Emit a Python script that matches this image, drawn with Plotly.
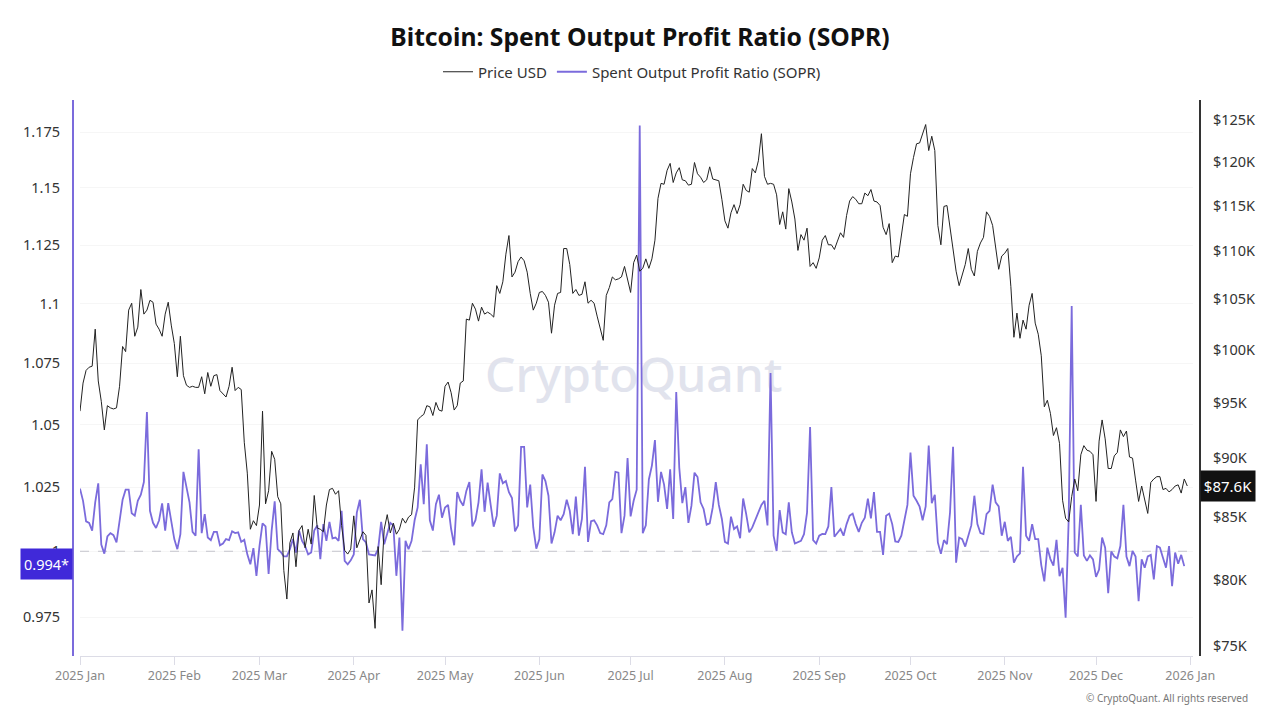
import pandas as pd
import plotly.graph_objects as go

TITLE = "Bitcoin: Spent Output Profit Ratio (SOPR)"
FONT = "Noto Sans, Open Sans, sans-serif"

price_k = [
    94.2, 96.8, 98.0, 98.3, 98.4, 102.0, 97.0, 95.1, 92.5, 94.7,
    94.5, 94.4, 94.5, 96.5, 100.3, 99.8, 103.9, 104.6, 101.3, 102.2,
    106.0, 103.5, 103.9, 104.9, 104.7, 102.5, 102.0, 101.3, 103.5, 104.7,
    102.4, 100.6, 97.4, 101.3, 97.5, 96.6, 96.4, 96.5, 96.4, 96.4,
    97.4, 95.8, 97.8, 96.5, 97.5, 97.6, 96.1, 95.8, 95.5, 96.5,
    98.3, 96.1, 96.4, 96.2, 91.4, 88.7, 84.0, 84.7, 84.3, 86.0,
    94.2, 86.1, 87.2, 90.6, 89.9, 86.7, 86.1, 80.7, 78.5, 82.9,
    83.7, 81.0, 83.9, 84.3, 82.5, 84.0, 82.8, 86.8, 84.1, 84.0,
    83.8, 86.0, 87.3, 87.4, 86.9, 87.2, 84.3, 82.3, 82.0, 82.4,
    85.1, 82.5, 83.1, 83.8, 83.5, 78.2, 79.2, 76.3, 82.6, 79.6,
    84.0, 85.2, 83.7, 84.5, 83.6, 84.0, 84.9, 84.5, 85.0, 85.2,
    87.5, 93.4, 93.7, 93.9, 94.7, 94.6, 93.8, 95.0, 94.3, 94.2,
    96.5, 96.9, 95.9, 94.3, 94.7, 96.8, 97.0, 103.0, 102.9, 104.6,
    104.0, 102.8, 104.2, 103.5, 103.7, 103.5, 103.2, 106.4, 105.6, 106.8,
    109.7, 111.7, 107.3, 107.8, 108.9, 109.4, 109.0, 107.8, 105.6, 103.9,
    104.6, 105.7, 105.8, 105.4, 104.7, 101.6, 104.4, 105.6, 105.7, 110.3,
    110.3, 108.6, 105.6, 106.0, 105.4, 105.5, 106.8, 104.6, 104.9, 104.6,
    103.3, 102.1, 100.9, 105.4, 106.2, 107.3, 107.0, 107.1, 107.3, 108.4,
    107.1, 105.7, 108.8, 109.6, 107.9, 108.2, 109.2, 108.2, 109.2, 111.2,
    115.8, 117.5, 117.4, 119.0, 119.8, 117.6, 118.7, 119.3, 117.9, 117.8,
    117.3, 117.4, 119.9, 118.6, 118.2, 117.6, 117.9, 119.4, 118.0, 117.9,
    117.8, 115.7, 113.3, 112.5, 114.2, 115.1, 114.1, 115.1, 117.4, 116.7,
    116.5, 119.2, 118.7, 120.1, 123.3, 118.3, 117.4, 117.5, 117.4, 116.2,
    112.9, 114.3, 112.4, 116.9, 115.4, 113.5, 110.1, 111.8, 111.2, 112.5,
    108.4, 108.8, 108.2, 109.3, 111.2, 111.7, 110.7, 110.7, 110.2, 111.1,
    112.0, 111.5, 113.9, 115.5, 116.0, 115.7, 115.2, 115.2, 116.4, 116.1,
    116.8, 115.5, 115.4, 115.0, 112.6, 111.8, 113.0, 108.8, 109.5, 109.4,
    111.7, 114.0, 113.8, 118.6, 120.5, 122.1, 122.2, 123.3, 124.4, 121.3,
    123.0, 121.3, 112.8, 110.7, 114.9, 115.0, 112.6, 110.6, 107.9, 106.4,
    107.4, 108.6, 110.3, 108.1, 107.4, 110.0, 110.9, 111.5, 114.3, 113.8,
    112.8, 110.2, 108.1, 109.5, 109.8, 110.3, 106.3, 101.2, 103.6, 101.1,
    102.9, 102.0, 104.4, 105.6, 102.6, 101.5, 99.4, 94.6, 95.2, 94.0,
    92.0, 92.7, 91.3, 86.4, 84.9, 84.6, 86.7, 88.2, 87.2, 90.3,
    91.1, 90.7, 90.6, 90.3, 86.3, 91.5, 93.4, 91.7, 89.1, 89.1,
    90.2, 90.5, 92.5, 91.9, 92.4, 90.1, 90.0, 88.1, 86.3, 87.6,
    86.4, 85.3, 87.9, 88.2, 88.4, 88.4, 87.3, 87.4, 87.1, 87.3,
    87.6, 87.7, 87.0, 88.2, 87.6,
]

sopr = [
    1.0244, 1.0196, 1.0116, 1.011, 1.008, 1.019, 1.0265, 1.0026, 0.9991, 1.0057,
    1.007, 1.0062, 1.0034, 1.011, 1.020, 1.024, 1.024, 1.0147, 1.0138, 1.0196,
    1.022, 1.027, 1.055, 1.0157, 1.011, 1.009, 1.012, 1.0186, 1.008, 1.0187,
    1.011, 1.0047, 1.0008, 1.0066, 1.031, 1.025, 1.019, 1.0075, 1.006, 1.040,
    1.007, 1.0144, 1.0053, 1.0043, 1.0075, 1.0075, 1.0023, 1.003, 1.0047, 1.0043,
    1.0077, 1.007, 1.0073, 1.0036, 1.0044, 0.9988, 0.995, 1.0012, 0.9906, 1.002,
    1.0108, 1.0096, 0.9913, 1.008, 1.0194, 1.0008, 0.9997, 0.998, 0.998, 1.0008,
    1.0047, 0.9995, 1.008, 1.004, 1.002, 0.9988, 0.9995, 1.008, 1.010, 0.997,
    1.0105, 1.004, 1.0114, 1.005, 1.0053, 1.004, 1.0157, 0.9963, 0.995, 0.9965,
    0.9988, 1.015, 1.020, 1.0047, 1.0034, 0.9988, 0.9986, 0.9984, 1.0008, 1.0114,
    1.0027, 1.0073, 1.011, 1.010, 0.9906, 1.0053, 0.9699, 1.004, 1.0008, 1.004,
    1.012, 1.017, 1.034, 1.0183, 1.042, 1.012, 1.008, 1.0183, 1.022, 1.013,
    1.017, 1.018, 1.0086, 1.0023, 1.023, 1.0196, 1.0177, 1.0235, 1.027, 1.0096,
    1.012, 1.019, 1.032, 1.0153, 1.0268, 1.018, 1.0095, 1.0138, 1.0304, 1.0265,
    1.0274, 1.023, 1.0207, 1.0077, 1.01, 1.041, 1.041, 1.017, 1.026, 1.0092,
    1.001, 1.0047, 1.030, 1.0274, 1.0216, 1.003, 1.0073, 1.0138, 1.012, 1.0144,
    1.02, 1.0157, 1.0066, 1.0213, 1.006, 1.0125, 1.033, 1.0036, 1.0116, 1.012,
    1.01, 1.007, 1.0066, 1.01, 1.019, 1.0203, 1.031, 1.0307, 1.007, 1.0138,
    1.0365, 1.0135, 1.0196, 1.024, 1.178, 1.007, 1.01, 1.028, 1.0335, 1.0437,
    1.0192, 1.031, 1.026, 1.0164, 1.032, 1.0125, 1.0632, 1.0326, 1.0187, 1.025,
    1.011, 1.0177, 1.0307, 1.029, 1.019, 1.0164, 1.0103, 1.0108, 1.017, 1.027,
    1.018, 1.0125, 1.0036, 1.003, 1.0134, 1.0086, 1.0096, 1.005, 1.0205, 1.0144,
    1.0073, 1.0092, 1.012, 1.015, 1.018, 1.0196, 1.010, 1.071, 1.006, 1.0001,
    1.016, 1.0073, 1.0066, 1.019, 1.0073, 1.003, 1.0034, 1.004, 1.0066, 1.015,
    1.049, 1.0043, 1.003, 1.006, 1.0067, 1.0066, 1.0096, 1.025, 1.0056, 1.0073,
    1.0086, 1.006, 1.0105, 1.0138, 1.0146, 1.0105, 1.0075, 1.011, 1.013, 1.0205,
    1.0127, 1.023, 1.0075, 1.0075, 0.9986, 1.0138, 1.0146, 1.0105, 1.0038, 1.0036,
    1.006, 1.012, 1.018, 1.0387, 1.0216, 1.0196, 1.0173, 1.012, 1.0174, 1.0415,
    1.0187, 1.022, 1.0034, 0.999, 1.0043, 1.0027, 1.015, 1.041, 0.9956, 1.0053,
    1.0047, 1.0018, 1.0057, 1.01, 1.0216, 1.0105, 1.007, 1.0066, 1.0144, 1.0157,
    1.026, 1.019, 1.0174, 1.006, 1.0114, 1.004, 1.0056, 0.9956, 0.998, 0.9992,
    1.033, 1.006, 1.004, 1.0105, 1.0047, 1.0047, 0.9947, 0.9885, 1.0014, 0.997,
    0.9945, 1.0044, 0.9905, 0.9937, 0.9748, 1.012, 1.099, 0.9995, 0.998, 1.018,
    0.9984, 0.9963, 0.9984, 0.9969, 0.9902, 0.993, 1.0053, 1.0014, 0.984, 0.9999,
    0.998, 0.9973, 1.002, 1.018, 0.998, 0.9943, 1.0001, 0.998, 0.981, 0.9969,
    0.9937, 0.998, 0.9986, 0.9892, 1.002, 1.0014, 0.9975, 0.9937, 1.002, 0.9867,
    0.9995, 0.9952, 0.9986, 0.9943,
]

start_date = "2025-01-01"
month_ticks = ["2025-01-01", "2025-02-01", "2025-03-01", "2025-04-01", "2025-05-01", "2025-06-01",
               "2025-07-01", "2025-08-01", "2025-09-01", "2025-10-01", "2025-11-01", "2025-12-01", "2026-01-01"]
month_labels = ["2025 Jan", "2025 Feb", "2025 Mar", "2025 Apr", "2025 May", "2025 Jun", "2025 Jul",
                "2025 Aug", "2025 Sep", "2025 Oct", "2025 Nov", "2025 Dec", "2026 Jan"]
sopr_ticks = [0.975, 1, 1.025, 1.05, 1.075, 1.1, 1.125, 1.15, 1.175]
sopr_labels = ["0.975", "1", "1.025", "1.05", "1.075", "1.1", "1.125", "1.15", "1.175"]
price_ticks = [75, 80, 85, 90, 95, 100, 105, 110, 115, 120, 125]
price_labels = ["$75K", "$80K", "$85K", "$90K", "$95K", "$100K", "$105K", "$110K", "$115K", "$120K", "$125K"]

price_dates = pd.date_range(start_date, periods=len(price_k)).strftime("%Y-%m-%d").tolist()
sopr_dates = pd.date_range(start_date, periods=len(sopr)).strftime("%Y-%m-%d").tolist()

PURPLE = "#7b6bdc"
L, R, T, B = 73, 80, 100, 64
PW, PH = 1280 - L - R, 720 - T - B


def py(pix):  # paper y from a pixel row
    return (720 - B - pix) / PH


def px(pix):  # paper x from a pixel column
    return (pix - L) / PW


fig = go.Figure()
fig.add_trace(go.Scatter(x=price_dates, y=price_k, name="Price USD", yaxis="y2", mode="lines",
                         line=dict(color="#222222", width=1)))
fig.add_trace(go.Scatter(x=["2025-07-02"], y=[1.068], mode="text", text=["CryptoQuant"], showlegend=False,
                         hoverinfo="skip", textfont=dict(family=FONT, size=48, color="#e1e3ed", weight=500)))
fig.add_trace(go.Scatter(x=[month_ticks[0], "2026-01-02"], y=[1, 1], mode="lines", showlegend=False, hoverinfo="skip",
                         line=dict(color="#c4c4cc", width=1, dash="dash")))
fig.add_trace(go.Scatter(x=sopr_dates, y=sopr, name="Spent Output Profit Ratio (SOPR)", mode="lines",
                         line=dict(color=PURPLE, width=1.8)))

fig.update_layout(
    width=1280, height=720, margin=dict(l=L, r=R, t=T, b=B, pad=0),
    paper_bgcolor="white", plot_bgcolor="white",
    font=dict(family=FONT, color="#333333", size=14.5),
    title=dict(text=f"<b>{TITLE}</b>", x=0.5, xanchor="center", y=1 - 37 / 720, yanchor="middle",
               font=dict(family=FONT, size=24.7, color="#111111")),
    legend=dict(orientation="h", x=px(632), xanchor="center", y=py(72), yanchor="middle",
                font=dict(size=15, color="#333333"), bgcolor="rgba(0,0,0,0)"),
    xaxis=dict(domain=[px(80), px(1193)], range=["2025-01-01", "2026-01-01 21:00"], type="date",
               tickmode="array", tickvals=month_ticks, ticktext=month_labels,
               tickfont=dict(size=12.5, color="#888888"), ticks="outside", ticklen=8, tickcolor="#dcdce6",
               showgrid=False, showline=True, linecolor="#dcdce6", linewidth=1, zeroline=False),
    yaxis=dict(type="log", anchor="free", position=0, side="left",
               range=[-0.01750, 0.07540], tickmode="array", tickvals=sopr_ticks, ticktext=sopr_labels,
               ticks="outside", ticklen=9, tickcolor="rgba(0,0,0,0)", showgrid=True, gridcolor="#f6f6f6",
               showline=True, linecolor=PURPLE, linewidth=2, zeroline=False),
    yaxis2=dict(type="log", anchor="free", position=1, side="right", overlaying="y",
                range=[1.87087, 2.10517], tickmode="array", tickvals=price_ticks, ticktext=price_labels,
                ticks="outside", ticklen=9, tickcolor="rgba(0,0,0,0)", showgrid=False,
                showline=True, linecolor="#333333", linewidth=2, zeroline=False),
    annotations=[
        dict(text="0.994*", xref="paper", yref="paper", x=0, xanchor="right", y=py(564), yanchor="middle",
             width=49, height=28, showarrow=False, bgcolor="#4029d9", font=dict(color="white", size=14.5)),
        dict(text="$87.6K", xref="paper", yref="paper", x=1, xanchor="left", y=py(485.5), yanchor="middle",
             width=52, height=28, showarrow=False, bgcolor="#111111", font=dict(color="white", size=15)),
        dict(text="© CryptoQuant. All rights reserved", xref="paper", yref="paper", x=px(1250), xanchor="right",
             y=py(698), yanchor="middle", showarrow=False, font=dict(size=10, color="#777777")),
    ],
)

fig.write_html("out.html", config=dict(displayModeBar=False), post_script="document.body.style.margin='0';")
